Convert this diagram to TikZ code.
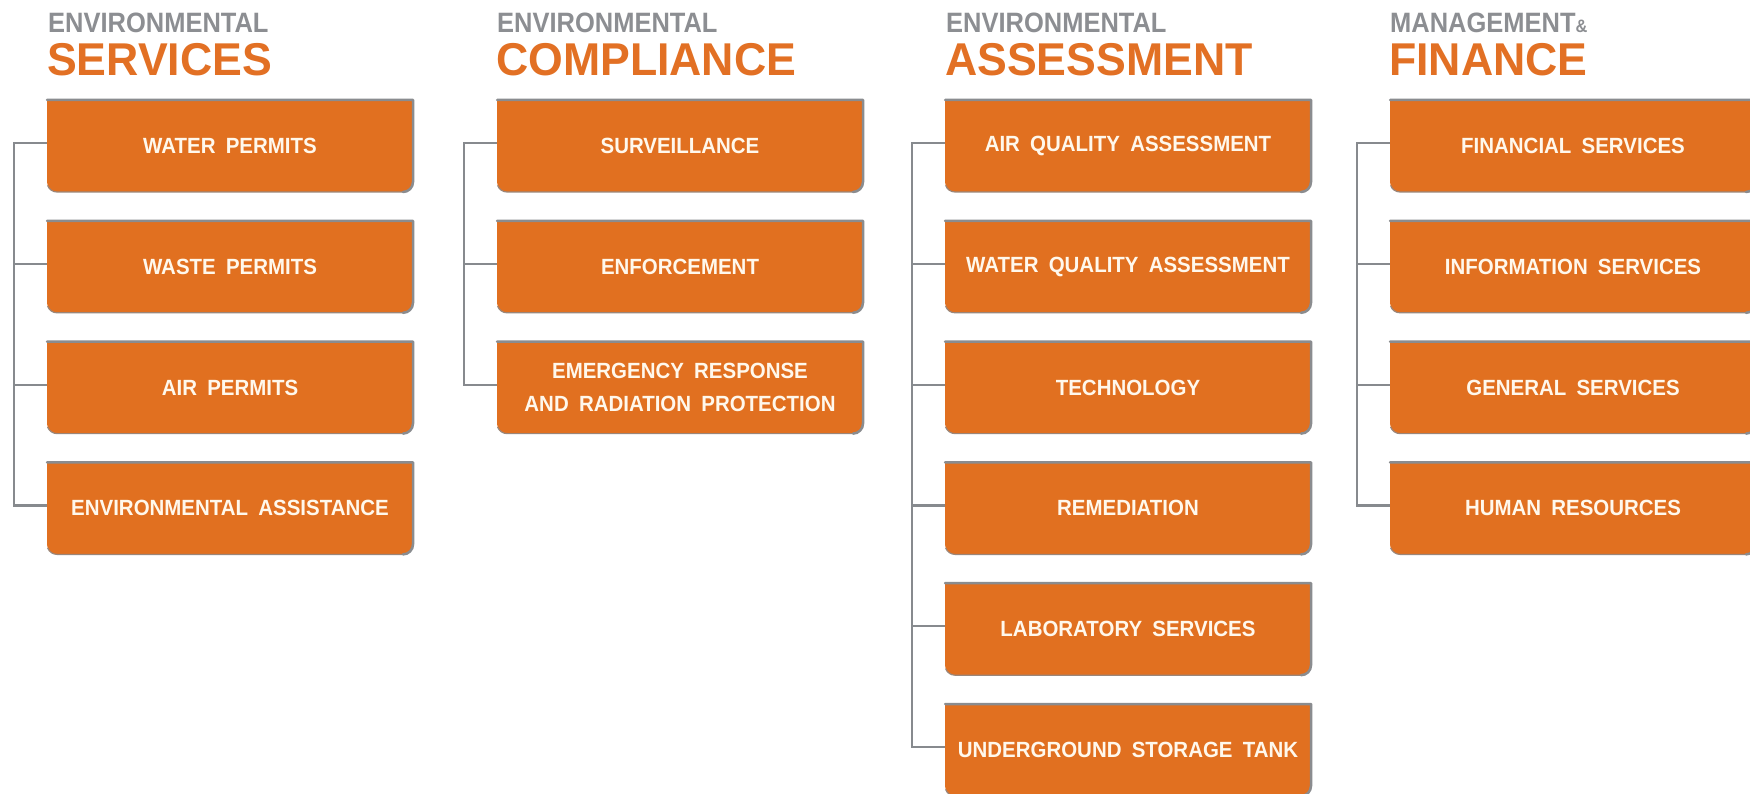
\documentclass[tikz,border=0pt]{standalone}
\usepackage{fontspec}
\usetikzlibrary{calc}
\setmainfont{Liberation Sans}
\newfontfamily\boxfont[FakeStretch=0.93,WordSpace=1.8]{Liberation Sans}
\newfontfamily\tsmallfont[FakeStretch=0.91]{Liberation Sans}
\newfontfamily\tbigfont[FakeStretch=0.97]{Liberation Sans}
\definecolor{boxorange}{RGB}{225,112,32}
\definecolor{titleorange}{RGB}{226,112,36}
\definecolor{titlegray}{RGB}{140,142,146}
\definecolor{edgegray}{RGB}{138,140,143}
\definecolor{conngray}{RGB}{135,138,142}
\definecolor{boxtextc}{RGB}{255,248,236}
\tikzset{
  boxnode/.style={rectangle, minimum width=366pt, minimum height=92pt, inner sep=0pt,
    text=boxtextc, align=center, font=\boxfont\bfseries\fontsize{22}{33}\selectfont},
  boxedge/.style={draw=edgegray, line width=2.5pt, line cap=round, line join=round},
  boxshadow/.style={draw=edgegray!80!boxorange, line width=1.2pt},
  conn/.style={draw=conngray, line width=2.2pt},
  tsmall/.style={anchor=base west, inner sep=0pt, text=titlegray, font=\tsmallfont\bfseries\fontsize{28}{28}\selectfont},
  tbig/.style={anchor=base west, inner sep=0pt, text=titleorange, font=\tbigfont\bfseries\fontsize{46}{46}\selectfont},
}
% #1 name, #2 x-left, #3 y-top (downward), #4 text
\newcommand\obox[4]{%
  \fill[boxorange] (#2,-#3) -- ++(366,0) -- ++(0,-82) arc[start angle=0,end angle=-90,radius=10pt]
     -- ++(-346,0) arc[start angle=270,end angle=180,radius=10pt] -- cycle;
  \draw[boxshadow] (#2+356,-#3-92) -- ++(-346,0) arc[start angle=270,end angle=200,radius=10pt];
  \draw[boxedge] (#2,-#3) -- ++(366,0) -- ++(0,-82) arc[start angle=0,end angle=-90,radius=10pt];
  \node[boxnode] (#1) at (#2+183,-#3-46) {#4};
}
% stub from trunk coordinate #1 to box #2
\newcommand\stub[2]{\draw[conn] ($(#1 |- #2.west)+(0,3)$) -- ($(#2.west)+(0,3)$);}
\begin{document}
\begin{tikzpicture}[x=1pt,y=1pt]
\useasboundingbox (0,0) rectangle (1750,-794);
\fill[white] (0,0) rectangle (1750,-794);

% titles
\node[tsmall] (t1a) at (48,-33) {ENVIRONMENTAL};
\node[tbig] (t1b) at (47,-76) {SERVICES};
\node[tsmall] (t2a) at (497,-33) {ENVIRONMENTAL};
\node[tbig] (t2b) at (496,-76) {COMPLIANCE};
\node[tsmall] (t3a) at (946,-33) {ENVIRONMENTAL};
\node[tbig] (t3b) at (945,-76) {ASSESSMENT};
\node[tsmall] (t4a) at (1390,-33) {MANAGEMENT{\fontsize{18}{18}\selectfont\&}};
\node[tbig] (t4b) at (1389,-76) {FINANCE};

% column 1
\obox{a1}{47}{100}{WATER PERMITS}
\obox{a2}{47}{220.8}{WASTE PERMITS}
\obox{a3}{47}{341.6}{AIR PERMITS}
\obox{a4}{47}{462.4}{ENVIRONMENTAL ASSISTANCE}
% column 2
\obox{b1}{497}{100}{SURVEILLANCE}
\obox{b2}{497}{220.8}{ENFORCEMENT}
\obox{b3}{497}{341.6}{EMERGENCY RESPONSE\\AND RADIATION PROTECTION}
% column 3
\obox{c1}{945}{100}{AIR QUALITY ASSESSMENT}
\obox{c2}{945}{220.8}{WATER QUALITY ASSESSMENT}
\obox{c3}{945}{341.6}{TECHNOLOGY}
\obox{c4}{945}{462.4}{REMEDIATION}
\obox{c5}{945}{583.2}{LABORATORY SERVICES}
\obox{c6}{945}{704}{UNDERGROUND STORAGE TANK}
% column 4
\obox{d1}{1390}{100}{FINANCIAL SERVICES}
\obox{d2}{1390}{220.8}{INFORMATION SERVICES}
\obox{d3}{1390}{341.6}{GENERAL SERVICES}
\obox{d4}{1390}{462.4}{HUMAN RESOURCES}

% connectors
\draw[conn] ($(a1.west)+(0,3)$) -- ++(-32.5,0) coordinate (a0) |- ($(a4.west)+(0,3)$);
\stub{a0}{a2}\stub{a0}{a3}

\draw[conn] ($(b1.west)+(0,3)$) -- ++(-32.5,0) coordinate (b0) |- ($(b3.west)+(0,3)$);
\stub{b0}{b2}

\draw[conn] ($(c1.west)+(0,3)$) -- ++(-32.5,0) coordinate (c0) |- ($(c6.west)+(0,3)$);
\stub{c0}{c2}\stub{c0}{c3}\stub{c0}{c4}\stub{c0}{c5}

\draw[conn] ($(d1.west)+(0,3)$) -- ++(-32.5,0) coordinate (d0) |- ($(d4.west)+(0,3)$);
\stub{d0}{d2}\stub{d0}{d3}
\end{tikzpicture}
\end{document}
